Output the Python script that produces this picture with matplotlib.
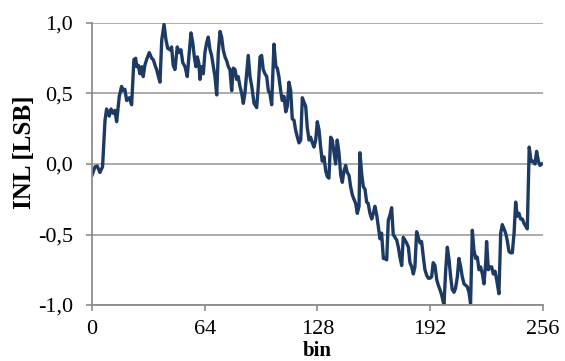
import matplotlib
matplotlib.use("Agg")
import matplotlib.pyplot as plt

plt.rcParams['font.family'] = ['Liberation Serif', 'DejaVu Serif']

# INL curve (bin, INL in LSB)
bins = [0, 1.7, 3, 4.5, 6, 7.4, 8.3, 9.8, 10.8, 12, 13, 14, 15.5, 16.8, 17.8, 18.7,
        19.7, 21.2, 22.5, 23.8, 24.8, 25.4, 26.3, 27.2, 28.2, 29.1, 30, 31, 32.5,
        33.9, 34.8, 35.8, 36.7, 37.7, 38.6, 39.6, 40.9, 42, 43, 44.3, 45.2, 46.1,
        47.1, 48.4, 49.6, 50.5, 51.5, 52.8, 54.1, 55.2, 56.2, 57.2, 58.1, 59, 59.8,
        60.7, 61.3, 62.3, 63.2, 64.1, 65.1, 66, 67, 67.9, 68.9, 69.8, 70.8, 71.7,
        72.7, 73.6, 74.5, 75.5, 76.5, 77.4, 78.3, 79.3, 80.2, 81.2, 82.1, 83, 84,
        85, 85.9, 86.8, 87.8, 88.7, 89.7, 90.7, 92, 93.5, 94.4, 95.4, 96.3, 97.2,
        98.2, 99.2, 100.1, 101, 102, 103.3, 104.4, 105.2, 106.1, 107.1, 108, 109,
        110, 110.9, 111.8, 112.8, 113.7, 114.7, 115.6, 116.6, 117.5, 118.5, 119.4,
        120.3, 121.3, 122.2, 123.2, 124.1, 125.1, 126, 127, 127.9, 128.9, 129.8,
        130.7, 131.7, 132.7, 133.6, 134.5, 135.5, 136.4, 137.4, 138.3, 139.2,
        140.2, 141.2, 142.1, 143, 144, 144.9, 145.9, 146.8, 147.8, 148.7, 149.7,
        150.6, 151.6, 152.1, 153.1, 154, 155, 155.9, 156.8, 157.8, 158.8, 159.7,
        160.6, 161.6, 162.5, 163.5, 164.4, 165.4, 166.3, 167.3, 168.2, 169.2,
        170.1, 171, 172, 173, 173.9, 174.8, 175.8, 176.7, 177.7, 178.6, 179.6,
        180.5, 181.5, 182.4, 183.3, 184.3, 185.2, 186.2, 187.1, 188.1, 189, 190,
        190.9, 191.9, 192.8, 193.7, 194.7, 195.7, 196.6, 197.5, 198.5, 199.8,
        200.8, 201.7, 202.7, 203.6, 204.5, 205.5, 206.4, 207.4, 208.3, 209.3,
        210.2, 211.2, 212.1, 213, 214, 214.9, 215.9, 216.8, 217.8, 218.7, 219.7,
        220.6, 221.6, 222.5, 223.5, 224, 225, 225.9, 226.9, 227.8, 228.8, 229.7,
        231, 232, 232.9, 233.9, 234.8, 235.7, 236.7, 237.7, 238.6, 239.6, 240.5,
        241.4, 242.4, 243.3, 244.3, 245.2, 246.2, 247.1, 248.2, 249.2, 250.2,
        251.5, 252.4, 253.4, 254.3, 255.3]
inl = [-0.08, -0.02, -0.015, -0.06, -0.02, 0.31, 0.39, 0.34, 0.39, 0.36, 0.38, 0.30,
       0.48, 0.55, 0.52, 0.53, 0.45, 0.47, 0.42, 0.74, 0.75, 0.69, 0.70, 0.64, 0.69,
       0.62, 0.70, 0.74, 0.79, 0.75, 0.74, 0.70, 0.67, 0.62, 0.58, 0.88, 0.99, 0.88,
       0.82, 0.81, 0.83, 0.70, 0.67, 0.83, 0.79, 0.81, 0.72, 0.69, 0.62, 0.79, 0.93,
       0.86, 0.76, 0.69, 0.76, 0.71, 0.60, 0.69, 0.64, 0.79, 0.86, 0.90, 0.81, 0.77,
       0.69, 0.62, 0.49, 0.79, 0.94, 0.90, 0.81, 0.76, 0.73, 0.69, 0.67, 0.52, 0.68,
       0.67, 0.60, 0.62, 0.55, 0.50, 0.43, 0.50, 0.64, 0.77, 0.62, 0.55, 0.43, 0.40,
       0.55, 0.76, 0.77, 0.67, 0.64, 0.62, 0.52, 0.50, 0.42, 0.85, 0.69, 0.68, 0.62,
       0.52, 0.45, 0.48, 0.37, 0.41, 0.58, 0.52, 0.32, 0.31, 0.24, 0.19, 0.15, 0.17,
       0.47, 0.44, 0.41, 0.26, 0.17, 0.19, 0.15, 0.12, 0.17, 0.30, 0.24, 0.12, 0.02,
       0.05, -0.05, -0.09, -0.10, 0.19, 0.17, 0.08, 0.00, 0.17, 0.08, -0.08, -0.13,
       -0.05, -0.01, -0.06, -0.08, -0.16, -0.22, -0.25, -0.28, -0.35, -0.30, 0.08,
       -0.07, -0.16, -0.18, -0.27, -0.28, -0.35, -0.39, -0.35, -0.30, -0.36, -0.44,
       -0.53, -0.49, -0.67, -0.67, -0.68, -0.40, -0.36, -0.31, -0.50, -0.52, -0.54,
       -0.59, -0.66, -0.72, -0.52, -0.54, -0.56, -0.59, -0.70, -0.73, -0.78, -0.73,
       -0.48, -0.52, -0.56, -0.55, -0.66, -0.75, -0.79, -0.81, -0.81, -0.80, -0.70,
       -0.72, -0.82, -0.86, -0.89, -0.93, -1.00, -0.75, -0.59, -0.68, -0.80, -0.89,
       -0.91, -0.88, -0.80, -0.67, -0.73, -0.80, -0.85, -0.86, -0.87, -0.91, -0.99,
       -0.47, -0.61, -0.67, -0.66, -0.75, -0.73, -0.78, -0.85, -0.70, -0.55, -0.75,
       -0.73, -0.73, -0.78, -0.76, -0.82, -0.92, -0.49, -0.43, -0.46, -0.49, -0.54,
       -0.62, -0.63, -0.63, -0.49, -0.27, -0.37, -0.35, -0.39, -0.39, -0.42, -0.44,
       -0.46, 0.12, 0.02, 0.02, 0.00, 0.09, 0.02, -0.01, 0.00]

xticks = [0, 64, 128, 192, 256]
yticks = [-1.0, -0.5, 0.0, 0.5, 1.0]
ylabels = ['-1,0', '-0,5', '0,0', '0,5', '1,0']

fig = plt.figure(figsize=(5.65, 3.61), dpi=100)
ax = fig.add_axes([0.1628, 0.1551, 0.7982, 0.7812])

ax.plot(bins, inl, color='#1c3a64', lw=2.4, solid_joinstyle='round')

ax.set_xlim(0, 256)
ax.set_ylim(-1.0, 1.0)
ax.set_xticks(xticks)
ax.set_yticks(yticks)
ax.set_yticklabels(ylabels)

ax.yaxis.grid(True, color='#a6a6a6', lw=1.3)
ax.set_axisbelow(True)
for s in ['top', 'right']:
    ax.spines[s].set_visible(False)
for s in ['left', 'bottom']:
    ax.spines[s].set_color('#8c8c8c')
    ax.spines[s].set_linewidth(1.3)
ax.tick_params(direction='out', length=4.5, width=1.2, color='#8c8c8c',
               labelsize=16)
ax.tick_params(axis='x', pad=6)
ax.tick_params(axis='y', pad=9)

ax.set_xlabel('bin', fontsize=15, fontweight='bold')
ax.xaxis.set_label_coords(0.5, -0.128)
ax.set_ylabel('INL [LSB]', fontsize=18, fontweight='bold')
ax.yaxis.set_label_coords(-0.125, 0.54)

fig.savefig('out.png', dpi=100)
